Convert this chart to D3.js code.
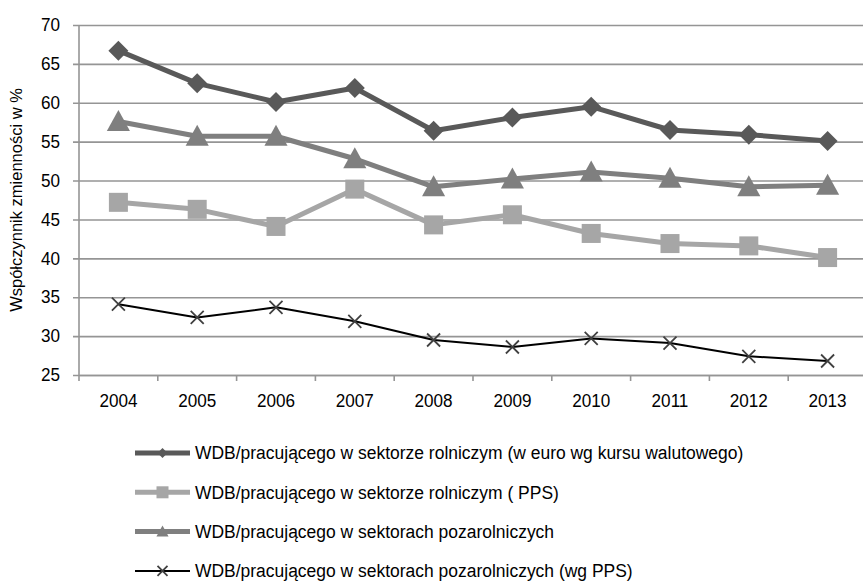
<!DOCTYPE html>
<html>
<head>
<meta charset="utf-8">
<script src="https://cdn.jsdelivr.net/npm/d3@7"></script>
<style>
  body { margin: 0; background: #fff; }
  text { font-family: "Liberation Sans", Arial, sans-serif; fill: #000; }
</style>
</head>
<body>
<div id="chart"></div>
<script>
const years = ["2004", "2005", "2006", "2007", "2008", "2009", "2010", "2011", "2012", "2013"]
const yTicks = [25, 30, 35, 40, 45, 50, 55, 60, 65, 70]

const rolnEuro = [66.7, 62.5, 60.1, 61.9, 56.4, 58.1, 59.5, 56.5, 55.9, 55.1]
const rolnPps = [47.2, 46.3, 44.1, 48.9, 44.3, 45.6, 43.2, 41.9, 41.6, 40.1]
const pozaroln = [57.6, 55.7, 55.7, 52.8, 49.2, 50.2, 51.1, 50.3, 49.2, 49.4]
const pozarolnPps = [34.1, 32.4, 33.7, 31.9, 29.5, 28.6, 29.7, 29.1, 27.4, 26.8]

const seriesNames = [
    "WDB/pracującego w sektorze rolniczym (w euro wg kursu walutowego)",
    "WDB/pracującego w sektorze rolniczym ( PPS)",
    "WDB/pracującego w sektorach pozarolniczych",
    "WDB/pracującego w sektorach pozarolniczych (wg PPS)"
]

const series = [
    {name: seriesNames[0], values: rolnEuro, color: "#595959", markerColor: "#595959", width: 5, marker: "diamond"},
    {name: seriesNames[1], values: rolnPps, color: "#a6a6a6", markerColor: "#a6a6a6", width: 5, marker: "square"},
    {name: seriesNames[2], values: pozaroln, color: "#7f7f7f", markerColor: "#7f7f7f", width: 5, marker: "triangle"},
    {name: seriesNames[3], values: pozarolnPps, color: "#000000", markerColor: "#404040", width: 2, marker: "cross"},
]

const dimensions = {
    width: 863,
    height: 582,
    margin: {top: 25, right: -4, bottom: 207, left: 79},
}
const plotW = dimensions.width - dimensions.margin.left - dimensions.margin.right
const plotH = dimensions.height - dimensions.margin.top - dimensions.margin.bottom

// the source font is a bit narrower than Liberation Sans
function condense(sel, factor) {
    sel.each(function () {
        const len = this.getComputedTextLength()
        d3.select(this)
            .attr("textLength", len * factor)
            .attr("lengthAdjust", "spacingAndGlyphs")
    })
}

const svg = d3.select("#chart")
    .append("svg")
    .attr("width", dimensions.width)
    .attr("height", dimensions.height)

const bounds = svg.append("g")
    .attr("transform", "translate(" + dimensions.margin.left + "," + dimensions.margin.top + ")")

const xScale = d3.scaleBand()
    .domain(years)
    .range([0, plotW])
const yScale = d3.scaleLinear()
    .domain([25, 70])
    .range([plotH, 0])
const xCenter = d => xScale(d) + xScale.bandwidth() / 2

// gridlines + y labels
const yAxis = bounds.append("g")
    .call(d3.axisLeft(yScale).tickValues(yTicks).tickSize(-plotW).tickPadding(19))
yAxis.select(".domain").remove()
yAxis.selectAll(".tick line")
    .attr("x1", -6)
    .attr("stroke", "#959595")
    .attr("stroke-width", 1.6)
yAxis.selectAll(".tick text")
    .attr("font-size", 18)
    .attr("font-family", "Liberation Sans, Arial, sans-serif")
    .call(condense, 0.95)

// y axis line
bounds.append("line")
    .attr("x1", 0).attr("x2", 0)
    .attr("y1", 0).attr("y2", plotH)
    .attr("stroke", "#959595")
    .attr("stroke-width", 1.6)

// x axis
const xAxis = bounds.append("g")
    .attr("transform", "translate(0," + plotH + ")")
    .call(d3.axisBottom(xScale).tickSize(0).tickPadding(19))
xAxis.select(".domain")
    .attr("stroke", "#959595")
    .attr("stroke-width", 1.6)
xAxis.selectAll(".tick text")
    .attr("font-size", 18)
    .attr("font-family", "Liberation Sans, Arial, sans-serif")
    .call(condense, 0.95)
xAxis.selectAll(".boundary")
    .data(years)
    .join("line")
    .attr("class", "boundary")
    .attr("x1", d => xScale(d)).attr("x2", d => xScale(d))
    .attr("y1", 0).attr("y2", 6)
    .attr("stroke", "#959595")
    .attr("stroke-width", 1.6)

function drawMarker(g, type, color, size) {
    if (type === "diamond") {
        g.append("path")
            .attr("d", d3.symbol(d3.symbolSquare, size * size / 2)())
            .attr("transform", "rotate(45)")
            .attr("fill", color)
    } else if (type === "square") {
        g.append("rect")
            .attr("x", -size / 2).attr("y", -size / 2)
            .attr("width", size).attr("height", size)
            .attr("fill", color)
    } else if (type === "triangle") {
        g.append("path")
            .attr("d", "M0," + (-size * 0.55) + "L" + (size * 0.55) + "," + (size * 0.45) + "L" + (-size * 0.55) + "," + (size * 0.45) + "Z")
            .attr("fill", color)
    } else {
        const h = size / 2
        g.append("path")
            .attr("d", "M" + (-h) + "," + (-h) + "L" + h + "," + h + "M" + (-h) + "," + h + "L" + h + "," + (-h))
            .attr("stroke", color)
            .attr("stroke-width", 1.8)
            .attr("fill", "none")
    }
}

const lineGenerator = d3.line()
    .x((d, i) => xCenter(years[i]))
    .y(d => yScale(d))

const markerSize = {diamond: 20, square: 19, triangle: 21, cross: 13}

series.forEach(s => {
    bounds.append("path")
        .attr("d", lineGenerator(s.values))
        .attr("fill", "none")
        .attr("stroke", s.color)
        .attr("stroke-width", s.width)
        .attr("stroke-linejoin", "round")
    s.values.forEach((v, i) => {
        const g = bounds.append("g")
            .attr("transform", "translate(" + xCenter(years[i]) + "," + yScale(v) + ")")
        drawMarker(g, s.marker, s.markerColor, markerSize[s.marker])
    })
})

// y axis title
svg.append("text")
    .attr("transform", "translate(22," + (dimensions.margin.top + plotH / 2) + ") rotate(-90)")
    .attr("text-anchor", "middle")
    .attr("font-size", 17)
    .text("Współczynnik zmienności w %")
    .call(condense, 0.97)

// legend
const legendMarkerSize = {diamond: 10, square: 12, triangle: 11, cross: 10}
const legend = svg.append("g")
    .attr("transform", "translate(135,453)")
series.forEach((s, i) => {
    const row = legend.append("g")
        .attr("transform", "translate(0," + (i * 39.3) + ")")
    row.append("line")
        .attr("x1", 0).attr("x2", 55)
        .attr("stroke", s.color)
        .attr("stroke-width", s.width)
    const m = row.append("g").attr("transform", "translate(27.5,0)")
    drawMarker(m, s.marker, s.markerColor, legendMarkerSize[s.marker])
    row.append("text")
        .attr("x", 60)
        .attr("dy", "0.35em")
        .attr("font-size", 18)
        .text(s.name)
        .call(condense, 0.97)
})
</script>
</body>
</html>
